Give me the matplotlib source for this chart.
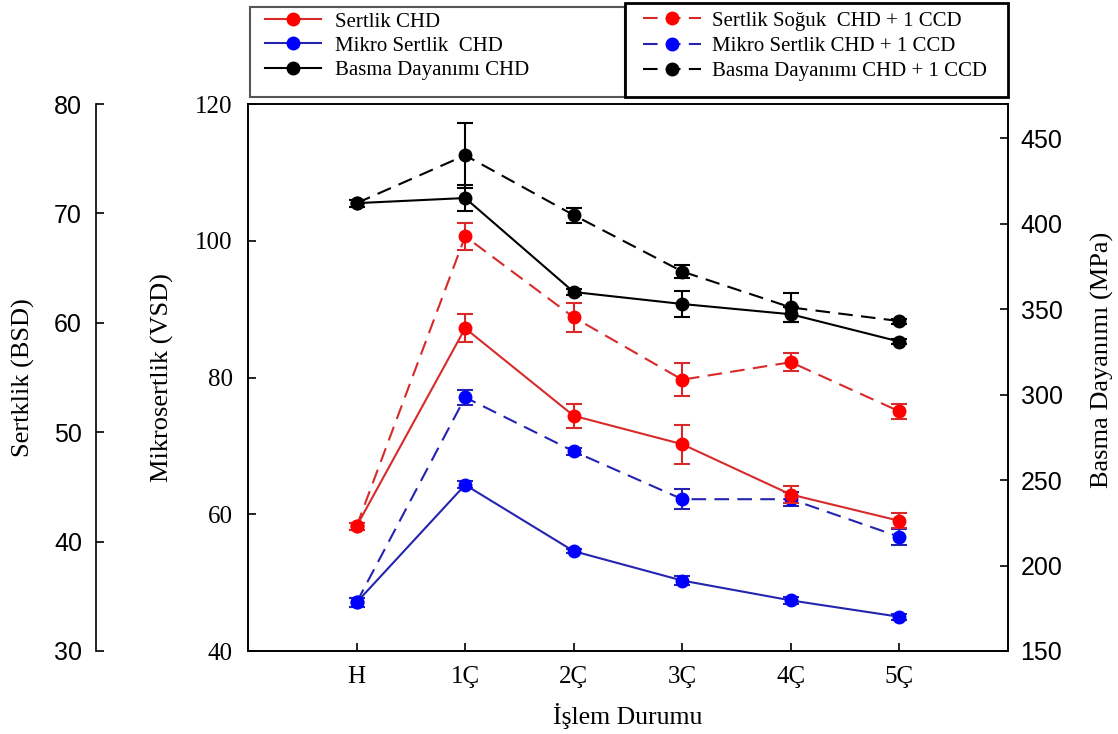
import numpy as np
import matplotlib
matplotlib.use("Agg")
import matplotlib.pyplot as plt
from matplotlib.lines import Line2D
from matplotlib.patches import Rectangle

# categories
states = ["H", "1Ç", "2Ç", "3Ç", "4Ç", "5Ç"]

# Sertlik (BSD) - red, outer left axis
sertlik_chd = [41.4, 59.5, 51.5, 48.9, 44.3, 41.9]
sertlik_chd_err = [0.3, 1.3, 1.1, 1.8, 0.75, 0.7]
sertlik_ccd = [41.4, 67.9, 60.5, 54.8, 56.4, 51.9]
sertlik_ccd_err = [0.3, 1.2, 1.3, 1.5, 0.85, 0.65]

# Mikrosertlik (VSD) - blue, inner left axis
mikro_chd = [47.1, 64.3, 54.6, 50.3, 47.4, 45.0]
mikro_chd_err = [0.6, 0.5, 0.3, 0.6, 0.5, 0.4]
mikro_ccd = [47.1, 77.1, 69.2, 62.2, 62.2, 56.7]
mikro_ccd_err = [0.7, 1.1, 0.5, 1.5, 1.0, 1.2]

# Basma Dayanimi (MPa) - black, right axis
basma_chd = [412, 415, 360, 353, 347, 331]
basma_chd_err = [2, 7.6, 1.6, 7.6, 4.4, 1.5]
basma_ccd = [412, 440, 405, 372, 351, 343]
basma_ccd_err = [2, 19, 4.4, 3.6, 8.4, 1.5]

serif = "Liberation Serif"
sans = "Liberation Sans"
RED_M, RED_L = "#ff0000", "#d82a2a"
BLUE_M, BLUE_L = "#0000ff", "#2424b0"
BLACK = "#000000"

fig = plt.figure(figsize=(11.18, 7.34), dpi=100)
W, H = 1118, 734
L, R, T, B = 248, 1008, 104, 651
ax = fig.add_axes([L / W, 1 - B / H, (R - L) / W, (B - T) / H])
axr = ax.twinx()
axb = ax.twinx()

x = np.arange(len(states))
common = dict(fmt="o", ms=9, capsize=5.5, elinewidth=1.5, capthick=1.5, lw=1.5)
dash = (7, 4)

# blue on the VSD axis
ax.errorbar(x, mikro_chd, yerr=mikro_chd_err, color=BLUE_L, mfc=BLUE_M, mec=BLUE_M, ls="-", **common)
e = ax.errorbar(x, mikro_ccd, yerr=mikro_ccd_err, color=BLUE_L, mfc=BLUE_M, mec=BLUE_M, ls="--", **common)
e[0].set_dashes(dash)

# red on the BSD axis
axb.errorbar(x, sertlik_chd, yerr=sertlik_chd_err, color=RED_L, mfc=RED_M, mec=RED_M, ls="-", **common)
e = axb.errorbar(x, sertlik_ccd, yerr=sertlik_ccd_err, color=RED_L, mfc=RED_M, mec=RED_M, ls="--", **common)
e[0].set_dashes(dash)

# black on the MPa axis
axr.errorbar(x, basma_chd, yerr=basma_chd_err, color=BLACK, mfc=BLACK, mec=BLACK, ls="-", **common)
e = axr.errorbar(x, basma_ccd, yerr=basma_ccd_err, color=BLACK, mfc=BLACK, mec=BLACK, ls="--", **common)
e[0].set_dashes(dash)

ax.set_xlim(-1, 6)
ax.set_ylim(40, 120)
axb.set_ylim(30, 80)
axr.set_ylim(150, 470)

# x axis
ax.set_xticks(x)
ax.set_xticklabels(states, fontfamily=serif, fontsize=18)
ax.tick_params(axis="x", direction="in", length=6, width=1.2, pad=11)
ax.set_xlabel("İşlem Durumu", fontfamily=serif, fontsize=18.5, va="center")
ax.xaxis.set_label_coords(0.5, (B - 716) / (B - T))

# inner left axis (VSD)
ax.set_yticks([40, 60, 80, 100, 120])
ax.set_yticklabels(["40", "60", "80", "100", "120"], fontfamily=serif, fontsize=18)
ax.tick_params(axis="y", direction="in", length=6, width=1.2, pad=11)
ax.set_ylabel("Mikrosertlik (VSD)", fontfamily=serif, fontsize=19, va="center")
ax.yaxis.set_label_coords((162 - L) / (R - L), 0.5)

# outer left axis (BSD)
axb.yaxis.set_ticks_position("left")
axb.yaxis.set_label_position("left")
axb.spines["left"].set_position(("outward", (L - 96) * 72 / 100))
for s in ["right", "top", "bottom"]:
    axb.spines[s].set_visible(False)
axb.spines["left"].set_linewidth(1.2)
axb.set_yticks([30, 40, 50, 60, 70, 80])
axb.set_yticklabels(["30", "40", "50", "60", "70", "80"], fontfamily=sans, fontsize=18)
axb.tick_params(axis="y", direction="in", length=6, width=1.2, pad=10)
axb.set_ylabel("Sertklik (BSD)", fontfamily=serif, fontsize=19, va="center")
axb.yaxis.set_label_coords((23 - L) / (R - L), 0.5)

# right axis (MPa)
axr.set_yticks([150, 200, 250, 300, 350, 400, 450])
axr.set_yticklabels(["150", "200", "250", "300", "350", "400", "450"], fontfamily=sans, fontsize=18)
axr.tick_params(axis="y", direction="in", length=6, width=1.2, pad=9)
axr.set_ylabel("Basma Dayanımı (MPa)", fontfamily=serif, fontsize=19, va="center")
axr.yaxis.set_label_coords((1102 - L) / (R - L), (B - 360) / (B - T))

for a in (ax, axr):
    for s in a.spines.values():
        s.set_linewidth(1.2)

# legends in two boxes
def handle(col_l, col_m, ls):
    h = Line2D([], [], color=col_l, marker="o", ms=9, mfc=col_m, mec=col_m, lw=1.5, ls=ls)
    if ls == "--":
        h.set_dashes(dash)
    return h

h1 = [handle(RED_L, RED_M, "-"), handle(BLUE_L, BLUE_M, "-"), handle(BLACK, BLACK, "-")]
l1 = ["Sertlik CHD", "Mikro Sertlik  CHD", "Basma Dayanımı CHD"]
h2 = [handle(RED_L, RED_M, "--"), handle(BLUE_L, BLUE_M, "--"), handle(BLACK, BLACK, "--")]
l2 = ["Sertlik Soğuk  CHD + 1 CCD", "Mikro Sertlik CHD + 1 CCD", "Basma Dayanımı CHD + 1 CCD"]

leg1 = fig.legend(h1, l1, loc="upper left", bbox_to_anchor=(265 / W, 1 - 12 / H), frameon=False,
                  borderpad=0, borderaxespad=0, handlelength=2.7, handletextpad=0.65,
                  labelspacing=0.22, prop={"family": serif, "size": 15})
leg2 = fig.legend(h2, l2, loc="upper left", bbox_to_anchor=(643 / W, 1 - 11 / H), frameon=False,
                  borderpad=0, borderaxespad=0, handlelength=2.8, handletextpad=0.5,
                  labelspacing=0.28, prop={"family": serif, "size": 15})

fig.add_artist(Rectangle((250 / W, 1 - 97 / H), 375 / W, 90 / H, transform=fig.transFigure,
                         fill=False, ec="#555555", lw=1.5))
fig.add_artist(Rectangle((625 / W, 1 - 97 / H), 383 / W, 94 / H, transform=fig.transFigure,
                         fill=False, ec="black", lw=2))

fig.savefig("out.png", dpi=100)
